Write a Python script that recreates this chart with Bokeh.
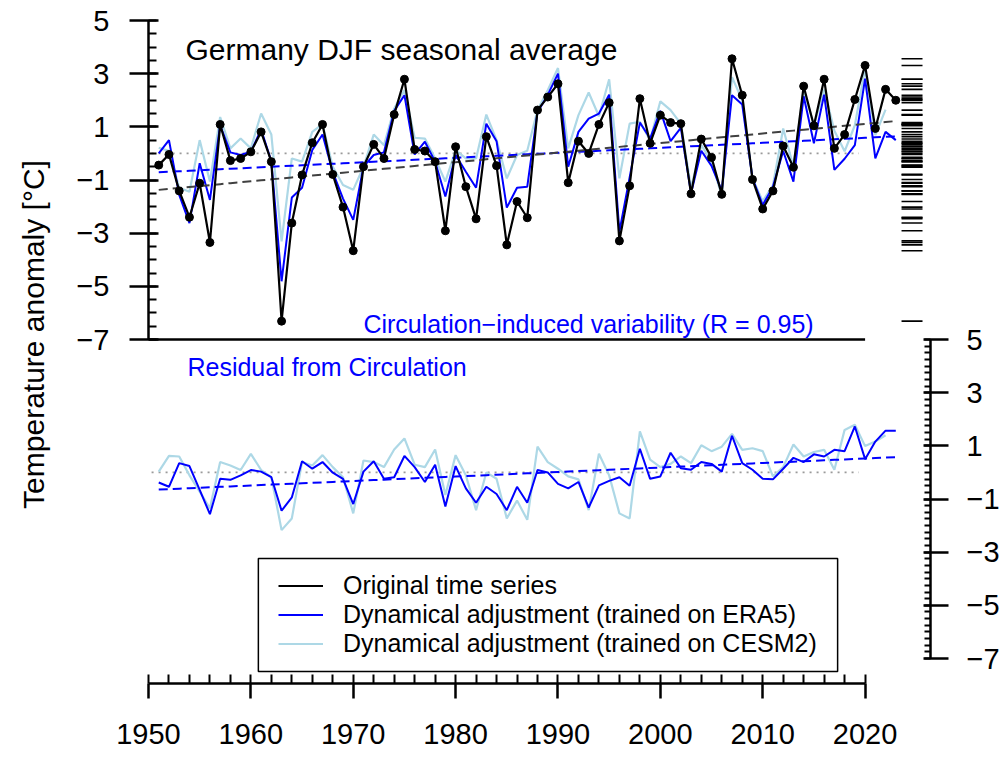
import numpy as np
from bokeh.plotting import figure
from bokeh.layouts import row
from bokeh.models import (Range1d, LinearAxis, FixedTicker, Label, Legend, LegendItem,
                          BoxAnnotation)
from bokeh.core.properties import value
from bokeh.embed import file_html
from bokeh.resources import INLINE

# ---------------- data ----------------
years = list(range(1951, 2024))

original = [-0.44, -0.04, -1.41, -2.40, -1.12, -3.35, 1.09, -0.27, -0.19, 0.06,
            0.81, -0.31, -6.31, -2.62, -0.81, 0.40, 1.09, -0.79, -2.02, -3.66,
            -0.50, 0.34, -0.19, 1.46, 2.79, 0.15, 0.09, -0.31, -2.91, 0.25,
            -1.25, -2.46, 0.63, -0.46, -3.44, -1.81, -2.42, 1.63, 2.12, 2.62,
            -1.10, 0.46, 0.00, 1.09, 1.91, -3.29, -1.22, 2.06, 0.38, 1.44,
            1.16, 1.12, -1.52, 0.54, -0.15, -1.54, 3.56, 2.19, -0.98, -2.09,
            -1.41, 0.28, -0.52, 2.53, 1.04, 2.79, 0.19, 0.71, 2.03, 3.31,
            0.94, 2.41, 2.00]

dyn_era5 = [0.00, 0.50, -1.56, -2.62, -0.37, -1.75, 1.06, 0.04, -0.06, 0.06,
            0.90, -0.30, -4.81, -1.66, -1.29, 0.13, 0.71, -0.70, -1.70, -2.50,
            -0.50, -0.06, 0.04, 1.60, 2.19, -0.04, 0.44, -0.31, -1.62, -0.06,
            -0.69, -1.29, 1.12, 0.46, -2.04, -1.29, -1.25, 1.55, 2.20, 3.00,
            -0.50, 0.81, 1.31, 1.50, 2.21, -2.94, -0.90, 1.16, 0.56, 1.60,
            0.46, 0.96, -1.50, 0.10, -0.47, -1.40, 2.19, 1.84, -0.94, -1.94,
            -1.25, 0.09, -1.06, 2.15, 0.38, 2.21, -0.62, -0.20, 0.31, 2.81,
            -0.19, 0.81, 0.50]

years_cesm2 = list(range(1951, 2023))
dyn_cesm2 = [0.21, 0.10, -1.29, -1.44, 0.50, -1.06, 1.37, 0.19, 0.56, 0.19,
             1.50, 0.71, -3.31, -0.19, -0.31, 0.81, 1.10, -0.50, -1.19, -1.37,
             -0.50, 0.71, 0.31, 1.69, 2.38, 0.59, 0.56, -0.19, -1.06, 0.12,
             -0.19, -0.19, 1.46, 0.50, -0.94, -0.06, 0.10, 1.63, 2.38, 3.21,
             0.19, 1.44, 2.29, 1.40, 2.79, -0.94, 1.12, 1.19, 0.50, 1.96,
             1.63, 1.12, -1.30, 0.31, -0.30, -1.60, 2.87, 2.00, -0.94, -1.80,
             -1.20, 0.94, -0.50, 2.40, 1.06, 2.40, 0.85, 0.08, 1.06, 3.20,
             0.69, 1.65]

resid_era5 = [-0.38, -0.54, 0.35, 0.24, -0.66, -1.57, -0.24, -0.28, -0.11, 0.09,
              0.03, -0.18, -1.44, -0.94, 0.42, 0.14, 0.39, -0.01, -0.24, -1.19,
              0.03, 0.42, -0.24, -0.18, 0.62, 0.20, -0.36, 0.29, -1.28, 0.24,
              -0.60, -1.14, -0.54, -0.81, -1.42, -0.54, -1.14, 0.09, 0.00, -0.43,
              -0.60, -0.36, -1.32, -0.49, -0.32, -0.18, -0.50, 0.89, -0.24, -0.15,
              0.74, 0.16, 0.10, 0.39, 0.32, 0.03, 1.38, 0.35, 0.10, -0.24,
              -0.26, 0.14, 0.55, 0.39, 0.68, 0.60, 0.85, 0.80, 1.73, 0.50,
              1.16, 1.57, 1.57]

resid_cesm2 = [0.03, 0.62, 0.60, -0.11, -0.72, -1.35, 0.39, 0.26, 0.09, 0.70,
               0.09, -0.18, -2.17, -1.73, 0.39, 0.26, 0.65, 0.20, -0.18, -1.54,
               0.45, 0.39, 0.20, 0.86, 1.28, 0.29, 0.20, 0.86, -0.85, 0.65,
               -0.11, -1.42, 0.00, -0.24, -1.73, -1.06, -1.78, 0.97, 0.39, 0.14,
               -0.15, -0.26, -1.42, 0.70, -0.11, -1.54, -1.73, 1.54, 0.48, 0.20,
               0.32, 0.60, 0.35, 1.02, 0.80, 0.97, 1.45, 0.85, 0.91, 0.80,
               -0.15, 0.20, 1.05, 0.60, 0.77, 0.85, 0.10, 1.60, 1.79, 0.99,
               1.16, 1.40]

legend_labels = ["Original time series",
                 "Dynamical adjustment (trained on ERA5)",
                 "Dynamical adjustment (trained on CESM2)"]
top_ticks = [5, 3, 1, -1, -3, -5, -7]
bottom_ticks = [5, 3, 1, -1, -3, -5, -7]
x_ticks = [1950, 1960, 1970, 1980, 1990, 2000, 2010, 2020]

# ---------------- layout constants ----------------
OFFSET = -12.0          # lower panel drawn 12 units below the upper one
FONT = "Liberation Sans"
BLACK = "#000000"
BLUE = "#0000FF"
LIGHTBLUE = "#ADD8E6"
DASHGRAY = "#404040"
DOTGRAY = "#9a9a9a"

H = 757
SIDE_W = 63
MAIN_W = 939
X0, X1 = 1950, 2026.39
Y0, Y1 = -19.94, 5
FRAME_LEFT, FRAME_TOP, FRAME_W, FRAME_H = 148, 20, 783, 663
FRAME_BOTTOM = FRAME_TOP + FRAME_H

def px_x(px):   # page pixel -> data x
    return X0 + (px - FRAME_LEFT) * (X1 - X0) / FRAME_W

def px_y(py):   # page pixel -> data y
    return Y1 - (py - FRAME_TOP) * (Y1 - Y0) / FRAME_H

def fmt(v):
    return str(v).replace("-", "\u2212")

def trend(xs, ys):
    c = np.polyfit(np.array(xs, float), np.array(ys, float), 1)
    return list(c[0] * np.array(xs, float) + c[1])

shift = lambda vals: [v + OFFSET for v in vals]

yr = Range1d(Y0, Y1)
p = figure(width=MAIN_W, height=H, output_backend="svg", toolbar_location=None,
           x_range=Range1d(X0, X1), y_range=yr,
           x_axis_location=None, y_axis_location=None,
           min_border_left=FRAME_LEFT - SIDE_W, min_border_right=SIDE_W + MAIN_W - FRAME_LEFT - FRAME_W,
           min_border_top=FRAME_TOP, min_border_bottom=H - FRAME_BOTTOM)
p.outline_line_color = None
for g in p.grid:
    g.visible = False

def style(ax):
    ax.axis_line_width = 2.5
    ax.axis_line_color = BLACK
    ax.major_tick_line_width = 2.5
    ax.minor_tick_line_width = 2
    ax.major_tick_line_color = BLACK
    ax.minor_tick_line_color = BLACK
    ax.major_label_text_font = FONT
    ax.major_label_text_font_size = "29px"
    ax.major_label_text_color = BLACK

left = LinearAxis(bounds=(-7, 5),
                  ticker=FixedTicker(ticks=top_ticks,
                                     minor_ticks=list(np.arange(-7, 5.001, 0.5))))
left.major_label_overrides = {t: fmt(t) for t in top_ticks}
style(left)
left.major_tick_out = 19
left.major_tick_in = 10
left.minor_tick_out = 0
left.minor_tick_in = 8
left.major_label_standoff = 20
p.add_layout(left, "left")

rt = [t + OFFSET for t in bottom_ticks]
right = LinearAxis(bounds=(-7 + OFFSET, 5 + OFFSET),
                   ticker=FixedTicker(ticks=rt,
                                      minor_ticks=list(np.arange(-7 + OFFSET, 5 + OFFSET + 0.001, 0.25))))
right.major_label_overrides = {t + OFFSET: fmt(t) for t in bottom_ticks}
style(right)
right.major_tick_out = 18
right.major_tick_in = 7
right.minor_tick_out = 0
right.minor_tick_in = 6
right.major_label_standoff = 18
p.add_layout(right, "right")

below = LinearAxis(bounds=(1950, 2020),
                   ticker=FixedTicker(ticks=x_ticks, minor_ticks=list(range(1950, 2021, 2))))
style(below)
below.major_tick_out = 15
below.major_tick_in = 0
below.minor_tick_out = 0
below.minor_tick_in = 9
below.major_label_standoff = 25
p.add_layout(below, "below")

# upper panel frame line at -7
p.segment(x0=[1950], x1=[2020], y0=[-7], y1=[-7], line_color=BLACK, line_width=2.5)

# zero reference lines
REF_X = [1950.3, 2019.4]
p.line(REF_X, [0, 0], line_color=DOTGRAY, line_width=1.6, line_dash="2 5")
p.line(REF_X, [OFFSET, OFFSET], line_color=DOTGRAY, line_width=1.6, line_dash="2 5")

# upper panel
r_cesm = p.line(years_cesm2, dyn_cesm2, line_color=LIGHTBLUE, line_width=2.2)
r_era5 = p.line(years, dyn_era5, line_color=BLUE, line_width=2)
p.line(years, trend(years, dyn_era5), line_color=BLUE, line_width=2, line_dash="9 5")
p.line(years, trend(years, original), line_color=DASHGRAY, line_width=2, line_dash="9 5")
r_orig = p.line(years, original, line_color=BLACK, line_width=2.2)
p.scatter(years, original, size=8, color=BLACK)

# rug of the original values
p.segment(x0=px_x(902), x1=px_x(923), y0=original, y1=original, line_color=BLACK, line_width=1.6)

# lower panel
p.line(years_cesm2, shift(resid_cesm2), line_color=LIGHTBLUE, line_width=2.2)
p.line(years, shift(resid_era5), line_color=BLUE, line_width=2)
p.line(years, shift(trend(years, resid_era5)), line_color=BLUE, line_width=2, line_dash="9 5")

# texts
p.add_layout(Label(x=px_x(185), y=px_y(48.5), text="Germany DJF seasonal average",
                   text_font=FONT, text_font_size="30px", text_color=BLACK,
                   text_align="left", text_baseline="alphabetic"))
p.add_layout(Label(x=px_x(814), y=px_y(323), text="Circulation\u2212induced variability (R = 0.95)",
                   text_font=FONT, text_font_size="25px", text_color=BLUE,
                   text_align="right", text_baseline="alphabetic"))
p.add_layout(Label(x=px_x(187), y=px_y(366.5), text="Residual from Circulation",
                   text_font=FONT, text_font_size="25px", text_color=BLUE,
                   text_align="left", text_baseline="alphabetic"))

# legend: frame box + one borderless legend row per entry (R-style even row pitch)
p.add_layout(BoxAnnotation(left=px_x(258), right=px_x(838), top=px_y(558), bottom=px_y(671),
                           fill_color="white", fill_alpha=1.0,
                           line_color=BLACK, line_width=1.5, line_alpha=1.0))
ROW_CENTERS = [585.5, 614.5, 643.5]
ITEM_H = 29.5
for lab, rend, cy in zip(legend_labels, [r_orig, r_era5, r_cesm], ROW_CENTERS):
    lg = Legend(items=[LegendItem(label=lab, renderers=[rend])],
                location=(278 - FRAME_LEFT, round(FRAME_BOTTOM - cy - ITEM_H / 2)),
                orientation="vertical",
                label_text_font=FONT, label_text_font_size="25px", label_text_color=BLACK,
                glyph_width=45, glyph_height=23, label_height=23, label_standoff=20,
                spacing=0, padding=0, margin=0,
                border_line_color=None, background_fill_alpha=0.0)
    p.add_layout(lg)

# side panel carrying the y-axis title
side = figure(width=SIDE_W, height=H, output_backend="svg", toolbar_location=None,
              x_range=Range1d(0, SIDE_W), y_range=yr,
              x_axis_location=None, y_axis_location=None,
              min_border_left=0, min_border_right=0,
              min_border_top=FRAME_TOP, min_border_bottom=H - FRAME_BOTTOM)
side.outline_line_color = None
for g in side.grid:
    g.visible = False
side.text(x=[33.3], y=[px_y(334)], text=["Temperature anomaly [\u00b0C]"], angle=np.pi / 2,
          text_font=value(FONT), text_font_size="30px", text_color=BLACK,
          text_align="center", text_baseline="alphabetic")

layout = row(side, p)
open("out.html", "w").write(file_html(layout, INLINE))
